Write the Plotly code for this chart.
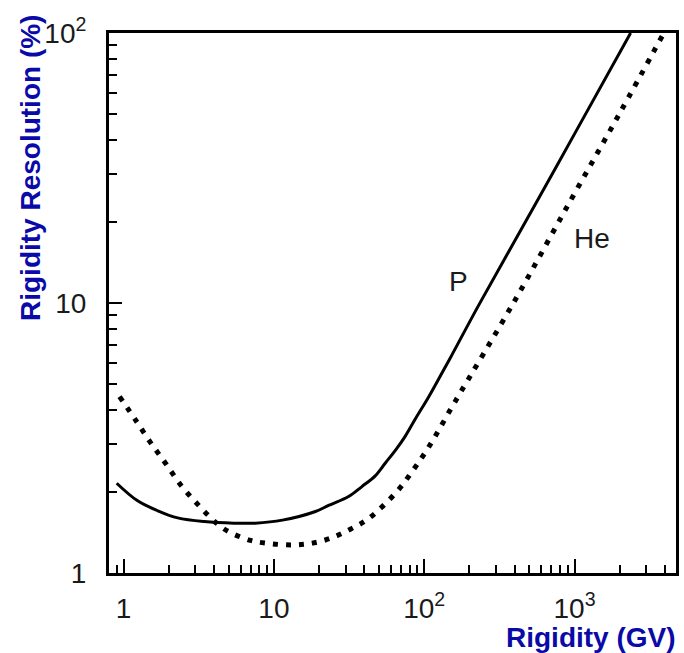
import plotly.graph_objects as go
import math

# Proton (P) rigidity resolution
p_rigidity = [0.9, 1.24, 1.69, 2.29, 3.44, 5.43, 7.5, 11.4, 18.9, 23.1, 31.4, 38.5, 47.2, 55, 65, 74.5, 88, 106, 124, 150, 230, 570, 1000, 2360]
p_resolution = [2.15, 1.85, 1.70, 1.60, 1.55, 1.53, 1.53, 1.57, 1.69, 1.78, 1.92, 2.09, 2.29, 2.55, 2.87, 3.2, 3.75, 4.45, 5.2, 6.3, 9.8, 24.1, 42.3, 100]

# Helium (He) rigidity resolution
he_rigidity = [0.94, 1.2, 1.5, 1.9, 2.43, 3.19, 4.21, 5.03, 7, 8.83, 13.2, 18, 24.3, 32, 42.6, 65.6, 84.6, 106, 160, 400, 946, 2000, 3926]
he_resolution = [4.50, 3.69, 3.06, 2.55, 2.10, 1.77, 1.52, 1.42, 1.32, 1.29, 1.27, 1.29, 1.35, 1.45, 1.59, 2.0, 2.41, 2.9, 4.3, 10.2, 24.1, 50.5, 100]

x_tickvals = [1, 10, 100, 1000]
x_ticktext = ["1", "10", "10<sup>2</sup>", "10<sup>3</sup>"]
x_minor = [0.9] + [k * m for m in (1, 10, 100) for k in range(2, 10)] + [2000, 3000, 4000]
y_tickvals = [1, 10, 100]
y_ticktext = ["1", "10", "10<sup>2</sup>"]
y_minor = [k * m for m in (1, 10) for k in range(2, 10)]

fig = go.Figure()
fig.add_trace(go.Scatter(x=p_rigidity, y=p_resolution, mode="lines", name="P",
                         line=dict(color="black", width=3, shape="spline", smoothing=1.0),
                         showlegend=False))
fig.add_trace(go.Scatter(x=he_rigidity, y=he_resolution, mode="lines", name="He",
                         line=dict(color="black", width=5, dash="5px,8px", shape="spline", smoothing=1.0),
                         showlegend=False))

FONT = "Liberation Sans, Arial, Helvetica, sans-serif"
tickfont = dict(family=FONT, size=28, color="#1a1a1a")
titlefont = dict(family=FONT, size=28, color="#0a0aa8")
fig.update_layout(
    width=684, height=653,
    margin=dict(l=109, r=5, t=33, b=80),
    paper_bgcolor="white", plot_bgcolor="white",
    xaxis=dict(type="log", range=[math.log10(0.8), math.log10(4730)],
               tickmode="array", tickvals=x_tickvals, ticktext=x_ticktext,
               ticks="inside", ticklen=14, tickwidth=2, tickcolor="black",
               showline=True, linewidth=3, linecolor="black", mirror=True,
               showgrid=False, zeroline=False, tickfont=tickfont, ticklabelstandoff=8,
               minor=dict(tickmode="array", tickvals=x_minor, ticks="inside", ticklen=8,
                          tickwidth=2, tickcolor="black", showgrid=False)),
    yaxis=dict(type="log", range=[0, 2],
               tickmode="array", tickvals=y_tickvals, ticktext=y_ticktext,
               ticks="inside", ticklen=13, tickwidth=2, tickcolor="black",
               showline=True, linewidth=3, linecolor="black", mirror=True,
               showgrid=False, zeroline=False, tickfont=tickfont, ticklabelstandoff=14,
               minor=dict(tickmode="array", tickvals=y_minor, ticks="inside", ticklen=8,
                          tickwidth=2, tickcolor="black", showgrid=False)),
    annotations=[
        dict(text="P", x=math.log10(168), y=math.log10(12), xref="x", yref="y",
             showarrow=False, font=tickfont),
        dict(text="He", x=math.log10(1315), y=math.log10(17.4), xref="x", yref="y",
             showarrow=False, font=tickfont),
        dict(text="<b>Rigidity (GV)</b>", x=1, y=0, xref="paper", yref="paper",
             xanchor="right", yanchor="middle", yshift=-64, xshift=2, showarrow=False,
             font=titlefont),
        dict(text="<b>Rigidity Resolution (%)</b>", x=0, y=0.75, xref="paper", yref="paper",
             xanchor="center", yanchor="middle", xshift=-79, textangle=-90, showarrow=False,
             font=titlefont),
    ],
)
fig.write_html("out.html")
